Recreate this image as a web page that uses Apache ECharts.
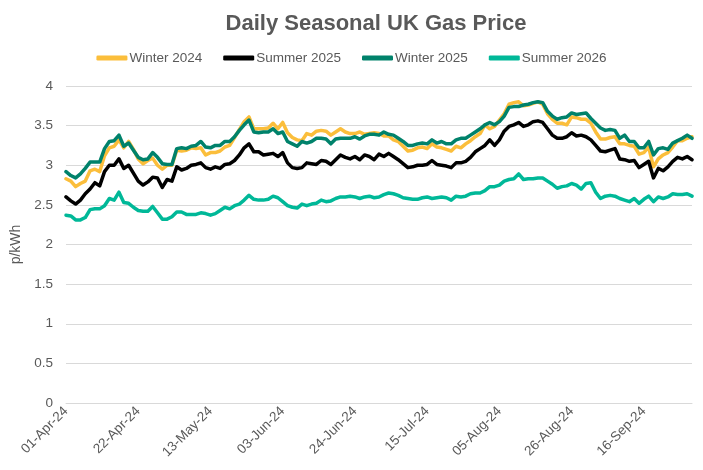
<!DOCTYPE html>
<html>
<head>
<meta charset="utf-8">
<script src="https://cdn.jsdelivr.net/npm/echarts@6/dist/echarts.min.js"></script>
<style>html,body{margin:0;padding:0;background:#fff;}#c{width:703px;height:470px;}</style>
</head>
<body>
<div id="c"></div>
<script>
var categories = [
'01-Apr-24','02-Apr-24','03-Apr-24','04-Apr-24','05-Apr-24','08-Apr-24','09-Apr-24','10-Apr-24','11-Apr-24','12-Apr-24',
'15-Apr-24','16-Apr-24','17-Apr-24','18-Apr-24','19-Apr-24','22-Apr-24','23-Apr-24','24-Apr-24','25-Apr-24','26-Apr-24',
'29-Apr-24','30-Apr-24','01-May-24','02-May-24','03-May-24','06-May-24','07-May-24','08-May-24','09-May-24','10-May-24',
'13-May-24','14-May-24','15-May-24','16-May-24','17-May-24','20-May-24','21-May-24','22-May-24','23-May-24','24-May-24',
'27-May-24','28-May-24','29-May-24','30-May-24','31-May-24','03-Jun-24','04-Jun-24','05-Jun-24','06-Jun-24','07-Jun-24',
'10-Jun-24','11-Jun-24','12-Jun-24','13-Jun-24','14-Jun-24','17-Jun-24','18-Jun-24','19-Jun-24','20-Jun-24','21-Jun-24',
'24-Jun-24','25-Jun-24','26-Jun-24','27-Jun-24','28-Jun-24','01-Jul-24','02-Jul-24','03-Jul-24','04-Jul-24','05-Jul-24',
'08-Jul-24','09-Jul-24','10-Jul-24','11-Jul-24','12-Jul-24','15-Jul-24','16-Jul-24','17-Jul-24','18-Jul-24','19-Jul-24',
'22-Jul-24','23-Jul-24','24-Jul-24','25-Jul-24','26-Jul-24','29-Jul-24','30-Jul-24','31-Jul-24','01-Aug-24','02-Aug-24',
'05-Aug-24','06-Aug-24','07-Aug-24','08-Aug-24','09-Aug-24','12-Aug-24','13-Aug-24','14-Aug-24','15-Aug-24','16-Aug-24',
'19-Aug-24','20-Aug-24','21-Aug-24','22-Aug-24','23-Aug-24','26-Aug-24','27-Aug-24','28-Aug-24','29-Aug-24','30-Aug-24',
'02-Sep-24','03-Sep-24','04-Sep-24','05-Sep-24','06-Sep-24','09-Sep-24','10-Sep-24','11-Sep-24','12-Sep-24','13-Sep-24',
'16-Sep-24','17-Sep-24','18-Sep-24','19-Sep-24','20-Sep-24','23-Sep-24','24-Sep-24','25-Sep-24','26-Sep-24','27-Sep-24',
'30-Sep-24'
];

var winter2024 = [
2.83,2.80,2.73,2.77,2.80,2.93,2.95,2.92,3.12,3.22,
3.24,3.32,3.22,3.30,3.20,3.08,3.02,3.06,3.09,3.00,
2.95,3.00,3.00,3.19,3.18,3.19,3.22,3.21,3.22,3.13,
3.16,3.16,3.18,3.23,3.25,3.35,3.45,3.55,3.61,3.46,
3.46,3.46,3.47,3.53,3.46,3.54,3.41,3.35,3.32,3.31,
3.40,3.38,3.43,3.44,3.43,3.38,3.42,3.46,3.42,3.40,
3.40,3.42,3.39,3.40,3.41,3.40,3.37,3.37,3.32,3.30,
3.24,3.18,3.19,3.22,3.23,3.21,3.27,3.23,3.22,3.20,
3.18,3.24,3.22,3.27,3.31,3.36,3.40,3.51,3.46,3.49,
3.57,3.65,3.77,3.79,3.80,3.75,3.76,3.78,3.80,3.77,
3.65,3.58,3.53,3.53,3.51,3.61,3.60,3.58,3.58,3.53,
3.42,3.33,3.33,3.35,3.36,3.27,3.27,3.25,3.24,3.14,
3.16,3.23,2.98,3.08,3.13,3.16,3.23,3.31,3.31,3.34,
3.36
];

var summer2025 = [
2.60,2.55,2.51,2.56,2.64,2.70,2.78,2.74,2.92,3.00,
3.00,3.08,2.96,3.00,2.90,2.80,2.75,2.79,2.85,2.84,
2.72,2.82,2.80,2.98,2.94,2.96,3.00,3.01,3.03,2.97,
2.95,2.98,2.96,3.01,3.02,3.06,3.13,3.22,3.27,3.17,
3.17,3.13,3.14,3.15,3.11,3.16,3.03,2.97,2.96,2.97,
3.03,3.02,3.01,3.06,3.05,3.01,3.07,3.13,3.10,3.08,
3.11,3.07,3.13,3.11,3.07,3.14,3.11,3.15,3.11,3.07,
3.02,2.97,2.98,3.00,3.00,3.01,3.06,3.01,3.00,2.99,
2.97,3.03,3.03,3.05,3.10,3.17,3.21,3.25,3.32,3.25,
3.32,3.43,3.49,3.51,3.54,3.49,3.51,3.55,3.56,3.54,
3.46,3.38,3.34,3.34,3.36,3.41,3.37,3.38,3.36,3.32,
3.25,3.18,3.17,3.19,3.21,3.08,3.07,3.05,3.06,2.97,
3.01,3.05,2.84,2.96,2.93,2.98,3.05,3.10,3.08,3.11,
3.07
];

var winter2025 = [
2.92,2.87,2.84,2.89,2.96,3.04,3.04,3.04,3.21,3.30,
3.31,3.38,3.24,3.28,3.19,3.10,3.07,3.08,3.16,3.10,
3.02,3.01,3.01,3.21,3.22,3.21,3.24,3.25,3.30,3.23,
3.22,3.25,3.25,3.30,3.30,3.36,3.44,3.51,3.57,3.42,
3.41,3.42,3.42,3.46,3.40,3.42,3.30,3.27,3.24,3.30,
3.28,3.30,3.34,3.34,3.33,3.27,3.33,3.34,3.34,3.34,
3.36,3.33,3.37,3.39,3.39,3.38,3.42,3.39,3.38,3.34,
3.30,3.25,3.25,3.27,3.28,3.27,3.32,3.28,3.30,3.27,
3.27,3.32,3.34,3.34,3.38,3.42,3.46,3.51,3.54,3.51,
3.55,3.62,3.73,3.74,3.74,3.76,3.77,3.79,3.80,3.79,
3.68,3.62,3.58,3.60,3.61,3.66,3.64,3.65,3.66,3.59,
3.53,3.47,3.44,3.45,3.44,3.34,3.38,3.30,3.30,3.22,
3.22,3.30,3.13,3.21,3.22,3.20,3.28,3.31,3.34,3.38,
3.34
];

var summer2026 = [
2.37,2.36,2.31,2.31,2.34,2.44,2.45,2.45,2.49,2.58,
2.56,2.66,2.53,2.52,2.47,2.43,2.42,2.42,2.48,2.40,
2.32,2.32,2.35,2.41,2.41,2.38,2.38,2.38,2.40,2.39,
2.37,2.39,2.43,2.47,2.45,2.49,2.51,2.56,2.62,2.57,
2.56,2.56,2.57,2.61,2.59,2.54,2.49,2.47,2.46,2.51,
2.49,2.51,2.52,2.56,2.54,2.55,2.58,2.60,2.60,2.61,
2.60,2.58,2.60,2.61,2.59,2.60,2.63,2.65,2.64,2.62,
2.59,2.58,2.57,2.57,2.59,2.60,2.58,2.59,2.60,2.59,
2.56,2.61,2.60,2.61,2.64,2.65,2.65,2.68,2.73,2.73,
2.75,2.80,2.82,2.83,2.89,2.82,2.83,2.83,2.84,2.84,
2.80,2.76,2.71,2.73,2.74,2.77,2.75,2.70,2.77,2.78,
2.66,2.58,2.61,2.62,2.61,2.58,2.56,2.54,2.58,2.52,
2.57,2.61,2.54,2.60,2.58,2.60,2.64,2.63,2.63,2.64,
2.61
];

var seriesNames = ['Winter 2024','Summer 2025','Winter 2025','Summer 2026'];
var seriesColors = ['#FBBE3B','#000000','#00826B','#00B898'];
var seriesData = [winter2024, summer2025, winter2025, summer2026];

var chart = echarts.init(document.getElementById('c'), null, {renderer:'canvas'});
var font = 'Liberation Sans, Arial, sans-serif';
var option = {
  animation: false,
  backgroundColor: '#ffffff',
  title: {
    text: 'Daily Seasonal UK Gas Price',
    left: 371, top: 8, textAlign: 'center',
    textStyle: {fontFamily: font, fontSize: 22, fontWeight: 'bold', color: '#595959'}
  },
  legend: {
    top: 46, left: 'center',
    itemWidth: 31, itemHeight: 5, itemGap: 21,
    icon: 'roundRect',
    textStyle: {fontFamily: font, fontSize: 13.5, color: '#595959', padding: [0,0,0,-3]},
    data: seriesNames
  },
  grid: {left: 66, right: 11, top: 86, bottom: 67, containLabel: false},
  xAxis: {
    type: 'category',
    data: categories,
    boundaryGap: false,
    axisLine: {lineStyle: {color: '#D9D9D9', width: 1}},
    axisTick: {show: false},
    axisLabel: {interval: 14, rotate: 45, fontFamily: font, fontSize: 13.5, color: '#595959', margin: 6}
  },
  yAxis: {
    type: 'value',
    min: 0, max: 4, interval: 0.5,
    name: 'p/kWh', nameLocation: 'middle', nameGap: 37,
    nameTextStyle: {fontFamily: font, fontSize: 14, color: '#595959'},
    axisLine: {show: false},
    axisTick: {show: false},
    splitLine: {lineStyle: {color: '#D9D9D9', width: 1}},
    axisLabel: {fontFamily: font, fontSize: 13.5, color: '#595959', margin: 13}
  },
  series: seriesNames.map(function(n, k){
    return {
      name: n, type: 'line', data: seriesData[k],
      symbol: 'none', smooth: false,
      lineStyle: {color: seriesColors[k], width: 3.5, join: 'round', cap: 'round'},
      itemStyle: {color: seriesColors[k]}
    };
  })
};
chart.setOption(option);
</script>
</body>
</html>
